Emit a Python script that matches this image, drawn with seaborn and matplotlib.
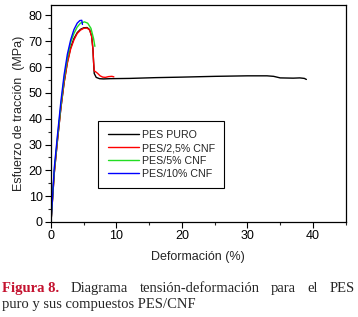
import pandas as pd
import matplotlib.pyplot as plt
import seaborn as sns
from matplotlib.ticker import MultipleLocator

# Datos (deformacion %, esfuerzo MPa)
puro_x = [0, 0.5, 1.0, 1.5, 2.0, 2.5, 3.0, 3.5, 4.0, 4.5, 5.0, 5.5, 5.9, 6.2, 6.4, 6.5, 6.6, 6.9,
          7.4, 8.0, 9, 12, 16, 20, 25, 30, 33, 34, 35, 37, 38, 38.7, 39]
puro_y = [0, 19, 32, 44, 54, 62, 67.5, 71, 73.3, 74.6, 75.2, 75.3, 74.5, 72, 67, 62, 57.5, 56,
          55.5, 55.4, 55.5, 55.6, 55.9, 56.1, 56.4, 56.6, 56.6, 56.4, 55.8, 55.7, 55.8, 55.6, 55.2]

cnf25_x = [0, 0.5, 1.0, 1.5, 2.0, 2.5, 3.0, 3.5, 4.0, 4.5, 5.0, 5.5, 5.9, 6.2, 6.4, 6.5, 6.6,
           6.8, 7.1, 7.5, 7.9, 8.3, 8.8, 9.3, 9.6]
cnf25_y = [0, 19, 32, 44, 54, 61.5, 67, 70.5, 73, 74.3, 75, 75.1, 74.3, 72, 67, 62, 58.5,
           58.2, 57.6, 56.6, 56.1, 56.0, 56.3, 56.4, 56.2]

cnf5_x = [0, 0.5, 1.0, 1.5, 2.0, 2.5, 3.0, 3.5, 4.0, 4.5, 5.1, 5.6, 6.1, 6.5, 6.7]
cnf5_y = [0, 20, 33, 45, 55.5, 63.5, 69.5, 73, 75.5, 77, 77.5, 77, 75, 71, 68]

cnf10_x = [0, 0.5, 1.0, 1.5, 2.0, 2.5, 3.0, 3.5, 4.0, 4.4, 4.7, 4.8]
cnf10_y = [0, 21, 34, 46.5, 57, 65, 70.5, 74.5, 77, 78, 78.1, 76.5]

series = [
    ("PES PURO", puro_x, puro_y, "black"),
    ("PES/2,5% CNF", cnf25_x, cnf25_y, "red"),
    ("PES/5% CNF", cnf5_x, cnf5_y, "#22dd22"),
    ("PES/10% CNF", cnf10_x, cnf10_y, "blue"),
]

sns.set_theme(style="ticks")
plt.rcParams['font.family'] = ['Liberation Sans', 'DejaVu Sans']

fig = plt.figure(figsize=(3.58, 3.17), dpi=100)
ax = fig.add_axes([0.1425, 0.2997, 0.823, 0.6843])

for nombre, xs, ys, color in series:
    df = pd.DataFrame({"x": xs, "y": ys})
    sns.lineplot(data=df, x="x", y="y", sort=False, estimator=None, color=color,
                 linewidth=1.0, label=nombre, ax=ax)

ax.set_xlim(0, 45)
ax.set_ylim(0, 84)
ax.xaxis.set_major_locator(MultipleLocator(10))
ax.xaxis.set_minor_locator(MultipleLocator(5))
ax.yaxis.set_major_locator(MultipleLocator(10))
ax.yaxis.set_minor_locator(MultipleLocator(5))
ax.tick_params(which="major", length=4, width=0.8, labelsize=9, pad=2, colors="black")
ax.tick_params(which="minor", length=2, width=0.8)
for s in ax.spines.values():
    s.set_linewidth(0.9)
    s.set_color("black")

ax.set_xlabel("Deformación (%)", fontsize=9, labelpad=6)
ax.set_ylabel("Esfuerzo de tracción  (MPa)", fontsize=9, labelpad=3)

leg = ax.legend(loc="upper left", bbox_to_anchor=(0.161, 0.465), fontsize=7.7,
                frameon=True, fancybox=False, edgecolor="black", framealpha=1,
                handlelength=2.9, handletextpad=0.3, borderpad=0.85, labelspacing=0.27,
                borderaxespad=0)
leg.get_frame().set_linewidth(0.8)

# pie de figura: primera linea justificada (espacios iguales entre palabras)
serif = ["Liberation Serif"]
fs = 10.5
palabras = ["Figura 8.", "Diagrama", "tensión-deformación", "para", "el", "PES"]
textos = []
for i, p in enumerate(palabras):
    if i == 0:
        t = fig.text(0, 0.079, p, color="#c4122f", fontweight="bold", fontsize=fs, family=serif)
    else:
        t = fig.text(0, 0.079, p, fontsize=fs, family=serif)
    textos.append(t)
fig.canvas.draw()
ren = fig.canvas.get_renderer()
anchos = [t.get_window_extent(ren).width for t in textos]
izq, der = 2, 355
hueco = (der - izq - sum(anchos)) / (len(anchos) - 1)
pos = izq
for t, w in zip(textos, anchos):
    t.set_x(pos / 358)
    pos += w + hueco
fig.text(2 / 358, 0.027, "puro y sus compuestos PES/CNF", fontsize=fs, family=serif)

plt.savefig("out.png", dpi=100)
plt.close()
